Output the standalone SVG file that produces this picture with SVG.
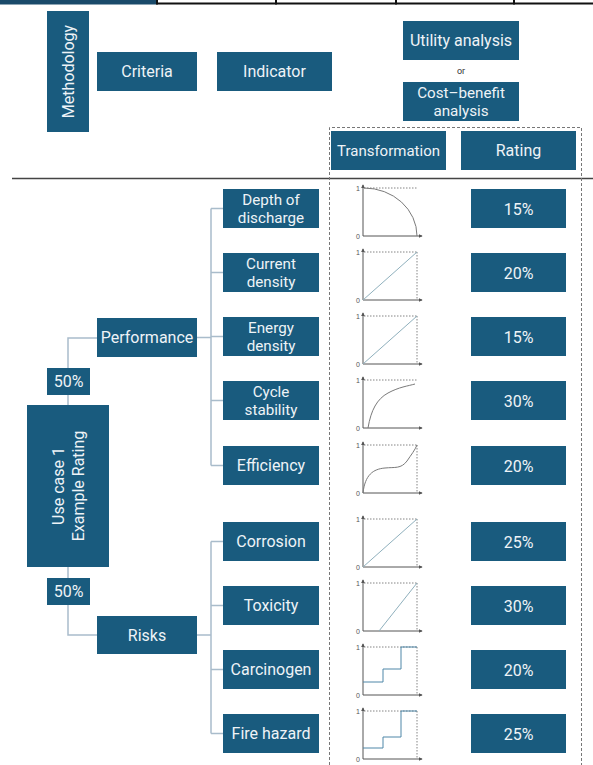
<svg xmlns="http://www.w3.org/2000/svg" width="593" height="765" viewBox="0 0 593 765">
<defs>
<style>
.box{fill:#195b7e}
.t{font-family:Roboto,"Liberation Sans",sans-serif;font-size:16px;fill:#eef3f7;text-anchor:middle}
.t2{font-size:15.2px}
.con{fill:none;stroke:#a9bccb;stroke-width:1.5}
.ax{stroke:#555;stroke-width:1;fill:none}
.dt{stroke:#666;stroke-width:0.8;stroke-dasharray:1.5 1.5;fill:none}
.cv{stroke:#7a7a7a;stroke-width:1;fill:none}
.dg{stroke:#8fb0bd;stroke-width:1;fill:none}
.st{stroke:#4f87a8;stroke-width:1;fill:none}
.lb{font-family:"Liberation Sans",sans-serif;font-size:7px;fill:#555;text-anchor:end}
</style>
<marker id="ah" viewBox="0 0 6 6" refX="5" refY="3" markerWidth="4" markerHeight="4" orient="auto"><path d="M0,0L6,3L0,6z" fill="#555"/></marker>
<g id="axes">
<path class="ax" d="M0,48V-3" marker-end="url(#ah)"/>
<path class="ax" d="M0,48H59" marker-end="url(#ah)"/>
<path class="dt" d="M1,0H54"/>
<text class="lb" x="-3" y="2.5">1</text>
<text class="lb" x="-3" y="50.5">0</text>
</g>
</defs>
<rect width="593" height="765" fill="#ffffff"/>

<g id="topbar">
<rect x="0" y="0" width="156" height="4.5" fill="#1a4a6a"/>
<path d="M156,3.5H593" stroke="#111" stroke-width="2"/>
<path d="M157,0V4.5M276,0V4.5M396,0V4.5M514,0V4.5" stroke="#111" stroke-width="2"/>
</g>

<g id="rule">
<path d="M12,178.5H593" stroke="#444" stroke-width="1.5"/>
</g>

<g id="dashed-frame">
<path d="M329.5,765V127.5H581.5V765" fill="none" stroke="#777" stroke-width="1" stroke-dasharray="3 2"/>
</g>

<g id="methodology"><rect class="box" x="47" y="11" width="42" height="121"/><text class="t" transform="translate(68,71.5) rotate(-90)" y="5.5">Methodology</text></g>
<g id="criteria"><rect class="box" x="97" y="52" width="100" height="39"/><text class="t" x="147" y="77">Criteria</text></g>
<g id="indicator"><rect class="box" x="217" y="52" width="115" height="39"/><text class="t" x="274.5" y="77">Indicator</text></g>
<g id="utility"><rect class="box" x="403" y="21" width="116" height="39"/><text class="t" x="461" y="46">Utility analysis</text></g>
<g id="or"><text class="t" x="461" y="74" style="font-size:9px;fill:#333">or</text></g>
<g id="costbenefit"><rect class="box" x="403" y="82" width="116" height="39"/><text class="t t2"><tspan x="461" y="98">Cost–benefit</tspan><tspan x="461" y="116">analysis</tspan></text></g>
<g id="transformation"><rect class="box" x="331" y="131" width="115" height="39"/><text class="t" x="388.5" y="156" style="font-size:15px">Transformation</text></g>
<g id="rating"><rect class="box" x="461" y="131" width="115" height="39"/><text class="t" x="518.5" y="156">Rating</text></g>

<g id="connectors">
<path class="con" d="M197,337.5H211M211,208.5V465.5M211,208.5H223M211,272.5H223M211,336.5H223M211,400.5H223M211,465.5H223"/>
<path class="con" d="M197,635H211M211,541.5V733.5M211,541.5H223M211,605.5H223M211,669.5H223M211,733.5H223"/>
<path class="con" d="M97,338H68V368M68,395V405M68,567V578M68,605V635H97"/>
</g>

<g id="usecase"><rect class="box" x="27" y="405" width="82" height="162"/><text class="t" transform="translate(68,486) rotate(-90)"><tspan x="0" y="-4.5">Use case 1</tspan><tspan x="0" y="15.5">Example Rating</tspan></text></g>
<g id="w-performance"><rect class="box" x="47" y="368" width="43" height="27"/><text class="t" x="68.5" y="387">50%</text></g>
<g id="w-risks"><rect class="box" x="47" y="578" width="43" height="27"/><text class="t" x="68.5" y="597">50%</text></g>
<g id="performance"><rect class="box" x="97" y="318" width="100" height="39"/><text class="t" x="147" y="343">Performance</text></g>
<g id="risks"><rect class="box" x="97" y="616" width="100" height="38"/><text class="t" x="147" y="640.5">Risks</text></g>

<g id="depth"><rect class="box" x="223" y="189" width="96" height="39"/><text class="t t2"><tspan x="271" y="204.5">Depth of</tspan><tspan x="271" y="222.5">discharge</tspan></text></g>
<g id="current"><rect class="box" x="223" y="253" width="96" height="39"/><text class="t t2"><tspan x="271" y="268.5">Current</tspan><tspan x="271" y="286.5">density</tspan></text></g>
<g id="energy"><rect class="box" x="223" y="317" width="96" height="39"/><text class="t t2"><tspan x="271" y="332.5">Energy</tspan><tspan x="271" y="350.5">density</tspan></text></g>
<g id="cycle"><rect class="box" x="223" y="381" width="96" height="39"/><text class="t t2"><tspan x="271" y="396.5">Cycle</tspan><tspan x="271" y="414.5">stability</tspan></text></g>
<g id="efficiency"><rect class="box" x="223" y="446" width="96" height="39"/><text class="t" x="271" y="471">Efficiency</text></g>
<g id="corrosion"><rect class="box" x="223" y="522" width="96" height="39"/><text class="t" x="271" y="547">Corrosion</text></g>
<g id="toxicity"><rect class="box" x="223" y="586" width="96" height="39"/><text class="t" x="271" y="611">Toxicity</text></g>
<g id="carcinogen"><rect class="box" x="223" y="650" width="96" height="39"/><text class="t" x="271" y="675">Carcinogen</text></g>
<g id="fire"><rect class="box" x="223" y="714" width="96" height="39"/><text class="t" x="271" y="739">Fire hazard</text></g>

<g id="chart-depth" transform="translate(363,188)"><use href="#axes"/><path class="cv" d="M1,0A53,48 0 0 1 54,48"/></g>
<g id="chart-current" transform="translate(363,252)"><use href="#axes"/><path class="dt" d="M54,0V48"/><path class="dg" d="M0,48L54,0"/></g>
<g id="chart-energy" transform="translate(363,316)"><use href="#axes"/><path class="dt" d="M54,0V48"/><path class="dg" d="M0,48L54,0"/></g>
<g id="chart-cycle" transform="translate(363,380)"><use href="#axes"/><path class="cv" d="M5,48C8,30 14,19 25,13S45,6 52,4"/></g>
<g id="chart-efficiency" transform="translate(363,445)"><use href="#axes"/><path class="dt" d="M54,0V48"/><path class="cv" d="M0,48C2,30 10,24 22,23C32,22 38,24 44,16C48,10 52,5 54,0"/></g>
<g id="chart-corrosion" transform="translate(363,519)"><use href="#axes"/><path class="dt" d="M54,0V48"/><path class="dg" d="M0,48L54,0"/></g>
<g id="chart-toxicity" transform="translate(363,583)"><use href="#axes"/><path class="dt" d="M54,0V48"/><path class="dg" d="M16,48L54,0"/></g>
<g id="chart-carcinogen" transform="translate(363,647)"><use href="#axes"/><path class="dt" d="M54,0V48"/><path class="st" d="M0,35H20V22H38V0H54"/></g>
<g id="chart-fire" transform="translate(363,711)"><use href="#axes"/><path class="dt" d="M54,0V48"/><path class="st" d="M0,37H20V26H38V0H54"/></g>

<g id="r1"><rect class="box" x="471" y="189" width="95" height="39"/><text class="t" x="518.5" y="214.5">15%</text></g>
<g id="r2"><rect class="box" x="471" y="253" width="95" height="39"/><text class="t" x="518.5" y="278.5">20%</text></g>
<g id="r3"><rect class="box" x="471" y="317" width="95" height="39"/><text class="t" x="518.5" y="342.5">15%</text></g>
<g id="r4"><rect class="box" x="471" y="381" width="95" height="39"/><text class="t" x="518.5" y="406.5">30%</text></g>
<g id="r5"><rect class="box" x="471" y="446" width="95" height="39"/><text class="t" x="518.5" y="471.5">20%</text></g>
<g id="r6"><rect class="box" x="471" y="522" width="95" height="39"/><text class="t" x="518.5" y="547.5">25%</text></g>
<g id="r7"><rect class="box" x="471" y="586" width="95" height="39"/><text class="t" x="518.5" y="611.5">30%</text></g>
<g id="r8"><rect class="box" x="471" y="650" width="95" height="39"/><text class="t" x="518.5" y="675.5">20%</text></g>
<g id="r9"><rect class="box" x="471" y="714" width="95" height="39"/><text class="t" x="518.5" y="739.5">25%</text></g>
</svg>
